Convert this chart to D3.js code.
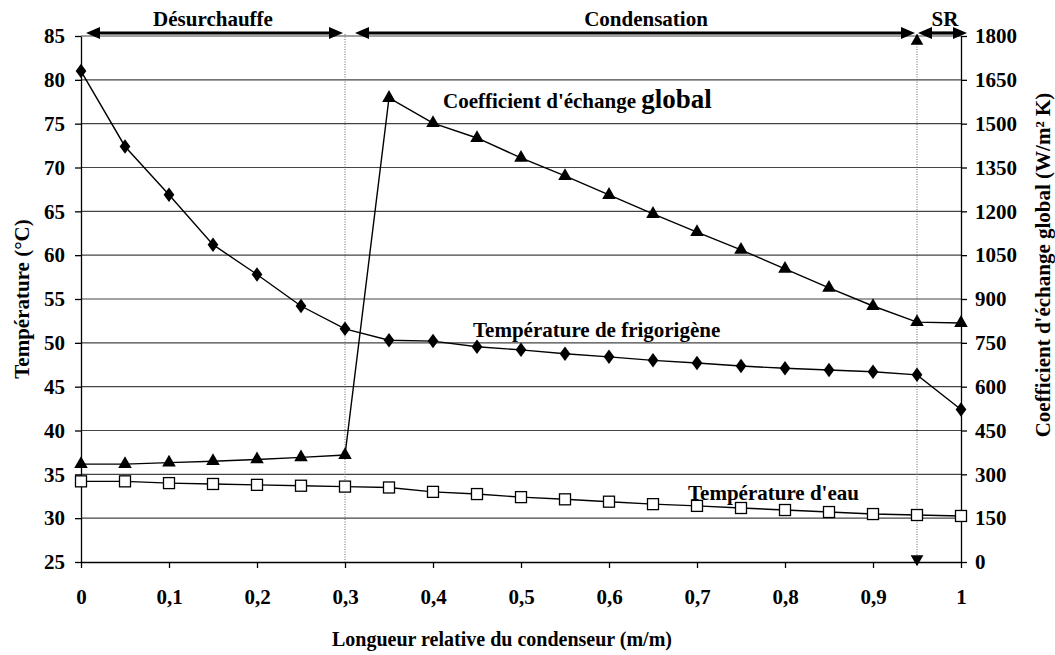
<!DOCTYPE html>
<html><head><meta charset="utf-8">
<script src="https://cdn.jsdelivr.net/npm/d3@7/dist/d3.min.js"></script>
<style>body{margin:0;background:#fff}svg{display:block}text{font-family:"Liberation Serif","Times New Roman",serif;font-weight:bold;fill:#000}</style>
</head><body><svg id="c" width="1055" height="655"></svg>
<script>
const xs = [0,0.05,0.1,0.15,0.2,0.25,0.3,0.35,0.4,0.45,0.5,0.55,0.6,0.65,0.7,0.75,0.8,0.85,0.9,0.95,1];
const tFrig = [81.0,72.4,66.9,61.2,57.8,54.2,51.6,50.3,50.2,49.55,49.2,48.75,48.4,48.0,47.7,47.35,47.1,46.9,46.7,46.35,42.4];
const tEau = [34.2,34.2,34.0,33.9,33.8,33.7,33.6,33.5,33.0,32.75,32.4,32.15,31.88,31.6,31.4,31.16,30.93,30.7,30.47,30.36,30.25];
const coef = [335,335,340,345,351,358,366,1588,1502,1451,1383,1321,1256,1191,1129,1068,1003,938,876,821,818];
const xTicks = [0,0.1,0.2,0.3,0.4,0.5,0.6,0.7,0.8,0.9,1];
const xTickLabels = ["0","0,1","0,2","0,3","0,4","0,5","0,6","0,7","0,8","0,9","1"];
const yLeftTicks = [25,30,35,40,45,50,55,60,65,70,75,80,85];
const yRightTicks = [0,150,300,450,600,750,900,1050,1200,1350,1500,1650,1800];
const zones = [{name:"Désurchauffe",from:0,to:0.3},{name:"Condensation",from:0.3,to:0.95},{name:"SR",from:0.95,to:1}];
const zoneBounds = [0.3,0.95];

const svg = d3.select("#c");
const L=81,R=961,T=36,B=562;
const SERIF = '"Liberation Serif","Times New Roman",serif';
const x = d3.scaleLinear().domain([0,1]).range([L,R]);
const yL = d3.scaleLinear().domain([25,85]).range([B,T]);
const yR = d3.scaleLinear().domain([0,1800]).range([B,T]);

// gridlines
svg.append("g").selectAll("line").data(yLeftTicks.filter(d=>d>25)).join("line")
  .attr("x1",L).attr("x2",R).attr("y1",d=>yL(d)).attr("y2",d=>yL(d))
  .attr("stroke","#444").attr("stroke-width",1.2);

// axes
const fs = "21px";
const gl = svg.append("g").attr("transform",`translate(${L},0)`)
  .call(d3.axisLeft(yL).tickValues(yLeftTicks).tickSize(6).tickSizeOuter(0).tickPadding(10));
const gr = svg.append("g").attr("transform",`translate(${R},0)`)
  .call(d3.axisRight(yR).tickValues(yRightTicks).tickFormat(d3.format("d")).tickSize(6).tickSizeOuter(0).tickPadding(8));
const gx = svg.append("g").attr("transform",`translate(0,${B})`)
  .call(d3.axisBottom(x).tickValues(xTicks).tickFormat((d,i)=>xTickLabels[i]).tickSize(6).tickSizeOuter(0).tickPadding(21));
[gl,gr,gx].forEach(g=>{
  g.attr("font-family",null).attr("font-size",null);
  g.selectAll("path").attr("stroke","#000").attr("stroke-width",1.3);
  g.selectAll("line").attr("stroke","#000").attr("stroke-width",1.3);
  g.selectAll("text").style("font-family",SERIF).style("font-weight","bold").style("font-size",fs).attr("fill","#000");
});

// dotted zone bounds
svg.append("g").selectAll("line").data(zoneBounds).join("line")
  .attr("x1",d=>x(d)).attr("x2",d=>x(d)).attr("y1",T-2).attr("y2",B)
  .attr("stroke","#666").attr("stroke-width",1).attr("stroke-dasharray","1,1.5");

// arrow markers at 0.95
const tri = d3.symbol().type(d3.symbolTriangle).size(70);
svg.append("path").attr("d",tri()).attr("transform",`translate(${x(0.95)},${T+5})`);
svg.append("path").attr("d",tri()).attr("transform",`translate(${x(0.95)},${B-3}) rotate(180)`);

// zone arrows
const ay = 33;
const zg = svg.append("g");
zones.forEach((z,i)=>{
  const x1 = x(z.from)+(i===0?5:(i===2?1:10)), x2 = x(z.to)+(i===2?6:-2);
  zg.append("line").attr("x1",x1+10).attr("x2",x2-10).attr("y1",ay).attr("y2",ay).attr("stroke","#000").attr("stroke-width",3.2);
  zg.append("path").attr("d",`M${x1},${ay}L${x1+14},${ay-6}L${x1+14},${ay+6}Z`);
  zg.append("path").attr("d",`M${x2},${ay}L${x2-14},${ay-6}L${x2-14},${ay+6}Z`);
});
zg.append("text").attr("x",213).attr("y",26).attr("text-anchor","middle").style("font-size","21px").text(zones[0].name);
zg.append("text").attr("x",646).attr("y",26).attr("text-anchor","middle").style("font-size","21px").text(zones[1].name);
zg.append("text").attr("x",945).attr("y",26).attr("text-anchor","middle").style("font-size","21px").text(zones[2].name);

// lines
const lineL = d3.line().x((d,i)=>x(xs[i])).y(d=>yL(d));
const lineR = d3.line().x((d,i)=>x(xs[i])).y(d=>yR(d));
svg.append("path").datum(tFrig).attr("d",lineL).attr("fill","none").attr("stroke","#000").attr("stroke-width",1.4);
svg.append("path").datum(tEau).attr("d",lineL).attr("fill","none").attr("stroke","#000").attr("stroke-width",1.4);
svg.append("path").datum(coef).attr("d",lineR).attr("fill","none").attr("stroke","#000").attr("stroke-width",1.4);

// markers
const dia = d3.symbol().type(d3.symbolDiamond).size(75);
svg.append("g").selectAll("path").data(tFrig).join("path").attr("d",dia())
  .attr("transform",(d,i)=>`translate(${x(xs[i])},${yL(d)}) scale(1.15,0.9)`);
svg.append("g").selectAll("path").data(coef).join("path").attr("d",d3.symbol().type(d3.symbolTriangle).size(80)())
  .attr("transform",(d,i)=>`translate(${x(xs[i])},${yR(d)})`);
svg.append("g").selectAll("rect").data(tEau).join("rect")
  .attr("x",(d,i)=>x(xs[i])-5.5).attr("y",d=>yL(d)-5.5).attr("width",11).attr("height",11)
  .attr("fill","#fff").attr("stroke","#000").attr("stroke-width",1.3);

// annotations
const a1 = svg.append("text").attr("x",443).attr("y",108).style("font-size","21px");
a1.append("tspan").text("Coefficient d'échange ");
a1.append("tspan").style("font-size","27px").text("global");
svg.append("text").attr("x",473).attr("y",337).style("font-size","21px").text("Température de frigorigène");
svg.append("text").attr("x",688).attr("y",500).style("font-size","21px").text("Température d'eau");

// axis titles
svg.append("text").attr("x",502).attr("y",646).attr("text-anchor","middle").style("font-size","20px").text("Longueur relative du condenseur (m/m)");
svg.append("text").attr("transform","translate(29,299) rotate(-90)").attr("text-anchor","middle").style("font-size","21px").text("Température (°C)");
svg.append("text").attr("transform","translate(1050,265) rotate(-90)").attr("text-anchor","middle").style("font-size","21px").text("Coefficient d'échange global (W/m² K)");
</script></body></html>
